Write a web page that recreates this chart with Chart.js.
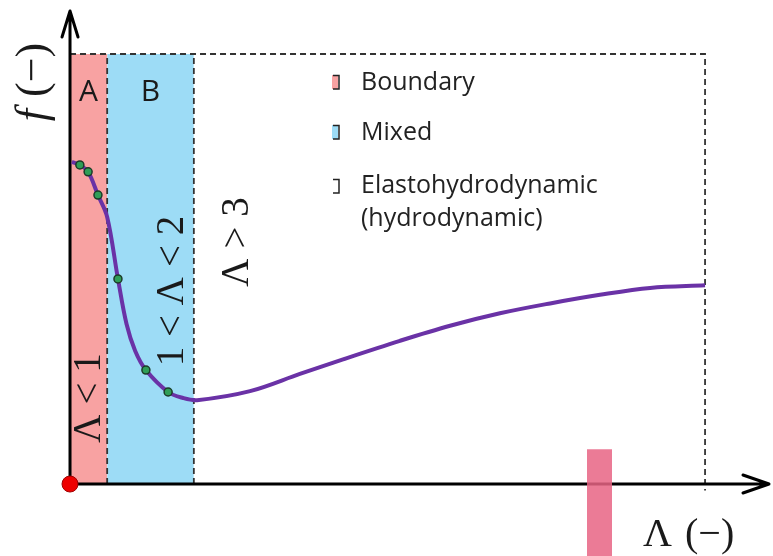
<!DOCTYPE html>
<html>
<head>
<meta charset="utf-8">
<script src="https://cdn.jsdelivr.net/npm/chart.js@4"></script>
<style>
  body { margin: 0; background: #fff; }
  canvas { display: block; }
</style>
</head>
<body>
<canvas id="stribeckChart" width="773" height="556"></canvas>
<script>
// Stribeck curve, schematic units: film parameter on x, friction f on y
const curveLambda = [0.06, 0.31, 0.57, 0.88, 1.17, 1.51, 1.78, 2.05, 2.39, 3.09, 3.56, 4.0, 5.67, 7.24, 8.6, 10.39, 11.97, 13.54, 15.12, 16.69, 18.27, 20.0];
const curveFriction = [7.49, 7.42, 7.26, 6.72, 6.21, 4.77, 3.72, 3.1, 2.65, 2.14, 2.0, 1.95, 2.16, 2.56, 2.9, 3.33, 3.68, 3.97, 4.2, 4.4, 4.56, 4.62];
const sampleLambda = [0.31, 0.57, 0.88, 1.51, 2.39, 3.09];
const sampleFriction = [7.42, 7.26, 6.72, 4.77, 2.65, 2.14];
const regimeEdges = [0, 1.17, 3.9, 20];   // borders A | B | C on the x axis
const regimeTop = 10;
const regimeNames = ['Boundary', 'Mixed', 'Elastohydrodynamic', '(hydrodynamic)'];
const regimeLetters = ['A', 'B'];
const regimeRanges = ['Λ < 1', '1 < Λ < 2', 'Λ > 3'];
const markerEdges = [16.28, 17.07];
const markerRange = [-1.7, 0.81];

const pink = '#f8a2a2';
const blue = '#9ddcf6';

const pts = (xs, ys) => xs.map((v, i) => ({ x: v, y: ys[i] }));

const guideData = [
  { x: regimeEdges[0], y: regimeTop }, { x: regimeEdges[3], y: regimeTop }, { x: regimeEdges[3], y: -0.15 },
  { x: regimeEdges[3], y: null },
  { x: regimeEdges[1], y: 0 }, { x: regimeEdges[1], y: regimeTop },
  { x: regimeEdges[1], y: null },
  { x: regimeEdges[2], y: 0 }, { x: regimeEdges[2], y: regimeTop }
];

const axesPlugin = {
  id: 'arrowAxes',
  afterDatasetDraw(chart, args) {
    if (chart.data.datasets[args.index].label !== 'guides') return;
    const { ctx, scales: { x, y } } = chart;
    const x0 = x.getPixelForValue(0), y0 = y.getPixelForValue(0);
    ctx.save();
    ctx.strokeStyle = '#000';
    ctx.lineWidth = 3;
    ctx.lineCap = 'round';
    ctx.lineJoin = 'round';
    ctx.beginPath();
    ctx.moveTo(x0, y0); ctx.lineTo(x0, 11);
    ctx.moveTo(x0 - 8, 37); ctx.lineTo(x0, 11); ctx.lineTo(x0 + 8, 37);
    ctx.moveTo(x0, y0); ctx.lineTo(769, y0);
    ctx.moveTo(743, y0 - 9); ctx.lineTo(769, y0); ctx.lineTo(743, y0 + 9);
    ctx.stroke();
    ctx.restore();
  }
};

function vText(ctx, str, cx, cy, font) {
  ctx.save();
  ctx.translate(cx, cy);
  ctx.rotate(-Math.PI / 2);
  ctx.font = font;
  ctx.fillText(str, 0, 0);
  ctx.restore();
}

function legendIcon(ctx, x, y, fill) {
  if (fill) { ctx.fillStyle = fill; ctx.fillRect(x, y, 6, 14); }
  ctx.strokeStyle = '#222';
  ctx.lineWidth = 1.5;
  ctx.beginPath();
  ctx.moveTo(x + 1, y + 0.5); ctx.lineTo(x + 7, y + 0.5); ctx.lineTo(x + 7, y + 14); ctx.lineTo(x + 1, y + 14);
  ctx.stroke();
}

const labelPlugin = {
  id: 'labels',
  afterDraw(chart) {
    const { ctx, scales: { x } } = chart;
    const mid = (a, b) => (x.getPixelForValue(a) + x.getPixelForValue(b)) / 2;
    ctx.save();
    ctx.fillStyle = '#1a1a1a';
    ctx.textAlign = 'center';
    ctx.textBaseline = 'middle';
    ctx.font = '30px "Open Sans"';
    ctx.fillText(regimeLetters[0], mid(regimeEdges[0], regimeEdges[1]), 92);
    ctx.fillText(regimeLetters[1], mid(regimeEdges[1], regimeEdges[2]), 92);

    const serif = '39px "Liberation Serif"';
    vText(ctx, regimeRanges[0], 90, 398, serif);
    vText(ctx, regimeRanges[1], 173, 291, serif);
    vText(ctx, regimeRanges[2], 238, 242, serif);

    ctx.save();
    ctx.translate(34, 93);
    ctx.rotate(-Math.PI / 2);
    ctx.font = 'italic 44px "Liberation Serif"';
    ctx.textAlign = 'right';
    ctx.fillText('f', -16, 0);
    ctx.font = '44px "Liberation Serif"';
    ctx.textAlign = 'left';
    ctx.fillText('(−)', -4, 0);
    ctx.restore();

    ctx.font = '40px "Liberation Serif"';
    ctx.textAlign = 'left';
    ctx.fillText('Λ', 643, 535);
    ctx.fillText('(−)', 685, 535);

    ctx.font = '25px "Open Sans"';
    ctx.fillStyle = '#222';
    ctx.fillText(regimeNames[0], 361, 83);
    ctx.fillText(regimeNames[1], 361, 133);
    ctx.fillText(regimeNames[2], 361, 186);
    ctx.fillText(regimeNames[3], 361, 219);
    legendIcon(ctx, 332, 75, pink);
    legendIcon(ctx, 332, 125, blue);
    legendIcon(ctx, 332, 179, null);
    ctx.restore();
  }
};

new Chart(document.getElementById('stribeckChart'), {
  type: 'line',
  data: {
    datasets: [
      {
        label: 'Boundary',
        data: [{ x: regimeEdges[0], y: regimeTop }, { x: regimeEdges[1], y: regimeTop }],
        fill: 'origin', backgroundColor: pink, borderWidth: 0, pointRadius: 0, order: 5
      },
      {
        label: 'Mixed',
        data: [{ x: regimeEdges[1], y: regimeTop }, { x: regimeEdges[2], y: regimeTop }],
        fill: 'origin', backgroundColor: blue, borderWidth: 0, pointRadius: 0, order: 5
      },
      {
        label: 'guides',
        data: guideData,
        borderColor: '#333', borderWidth: 1.8, borderDash: [6, 4],
        pointRadius: 0, fill: false, spanGaps: false, order: 4
      },
      {
        label: 'marker',
        data: [{ x: markerEdges[0], y: markerRange[1] }, { x: markerEdges[1], y: markerRange[1] }],
        fill: { value: markerRange[0] }, backgroundColor: 'rgba(232, 100, 132, 0.85)',
        borderWidth: 0, pointRadius: 0, order: 3
      },
      {
        label: 'f',
        data: pts(curveLambda, curveFriction),
        borderColor: '#6a32a6', borderWidth: 4, pointRadius: 0,
        tension: 0.35, fill: false, order: 2
      },
      {
        label: 'samples',
        data: pts(sampleLambda, sampleFriction),
        showLine: false, pointRadius: 4, pointBackgroundColor: '#2f9e57',
        pointBorderColor: '#1c3b28', pointBorderWidth: 1.5, order: 1
      },
      {
        label: 'origin',
        data: [{ x: 0, y: 0 }],
        showLine: false, pointRadius: 8, pointBackgroundColor: '#ee0000',
        pointBorderColor: '#a00000', pointBorderWidth: 1, order: 0
      }
    ]
  },
  options: {
    responsive: false,
    devicePixelRatio: 1,
    animation: false,
    layout: { padding: 0, autoPadding: false },
    plugins: { legend: { display: false }, tooltip: { enabled: false } },
    scales: {
      x: { type: 'linear', min: -2.205, max: 22.14, display: false },
      y: { type: 'linear', min: -1.674, max: 11.256, display: false }
    }
  },
  plugins: [axesPlugin, labelPlugin]
});
</script>
</body>
</html>
